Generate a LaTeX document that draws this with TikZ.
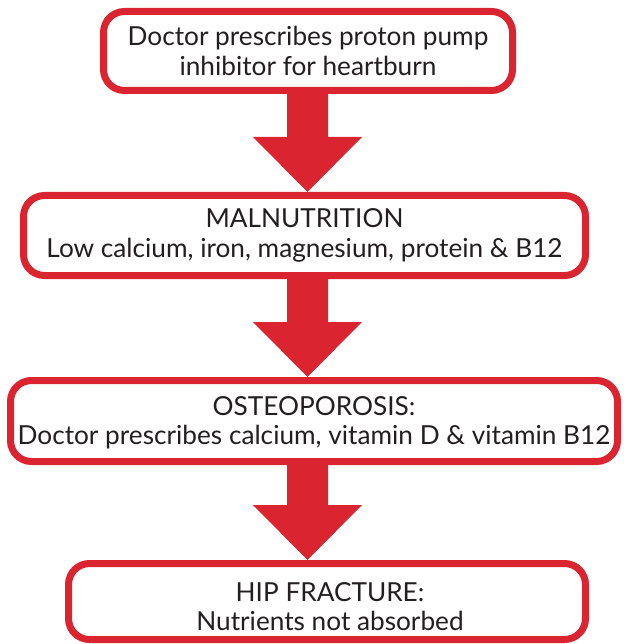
\documentclass[tikz,border=0pt]{standalone}
\usepackage{fontspec}
\setmainfont{Lato}
\usetikzlibrary{calc}
\definecolor{boxred}{RGB}{218,37,48}
\definecolor{ink}{RGB}{35,31,32}
\newcommand\downblock[2]{%
  \fill[boxred] ($(#1.south -| ax)+(-20.5,-4)$) -- ($(#1.south -| ax)+(20.5,-4)$)
    -- ($(#2.north -| ax)+(20.5,-55)$) -- ($(#2.north -| ax)+(54.5,-55)$)
    -- (#2.north -| ax) -- ($(#2.north -| ax)+(-54.5,-55)$)
    -- ($(#2.north -| ax)+(-20.5,-55)$) -- cycle;}
\begin{document}
\begin{tikzpicture}[x=1pt,y=-1pt,
  stepbox/.style={draw=boxred, line width=7pt, rounded corners=21pt, fill=white,
    align=center, text=ink, font=\fontsize{26.2}{29.5}\selectfont, inner sep=0pt},
  boxtext/.style={align=center, text=ink, font=\fontsize{26.2}{29.5}\selectfont, inner sep=0pt}]
\useasboundingbox (0,0) rectangle (623,644);
\node[stepbox, minimum width=409pt, minimum height=79pt] (b1) at (308,51)
  {Doctor prescribes proton pump\\inhibitor for heartburn};
\node[stepbox, minimum width=562pt, minimum height=80pt] (b2) at (304.5,235.5)
  {MALNUTRITION\\Low calcium, iron, magnesium, protein \& B12};
\node[stepbox, minimum width=607pt, minimum height=81pt] (b3) at (314,421) {};
\node[boxtext] (t3) at ($(b3.center)+(0,2)$)
  {OSTEOPOROSIS:\\Doctor prescribes calcium, vitamin D \& vitamin B12};
\node[stepbox, minimum width=517pt, minimum height=76pt] (b4) at (327,601.5) {};
\node[boxtext] (t4) at ($(b4.center)+(3,5)$)
  {HIP FRACTURE:\\Nutrients not absorbed};
\coordinate (ax) at (307.5,0);
\downblock{b1}{b2}
\downblock{b2}{b3}
\downblock{b3}{b4}
\end{tikzpicture}
\end{document}
